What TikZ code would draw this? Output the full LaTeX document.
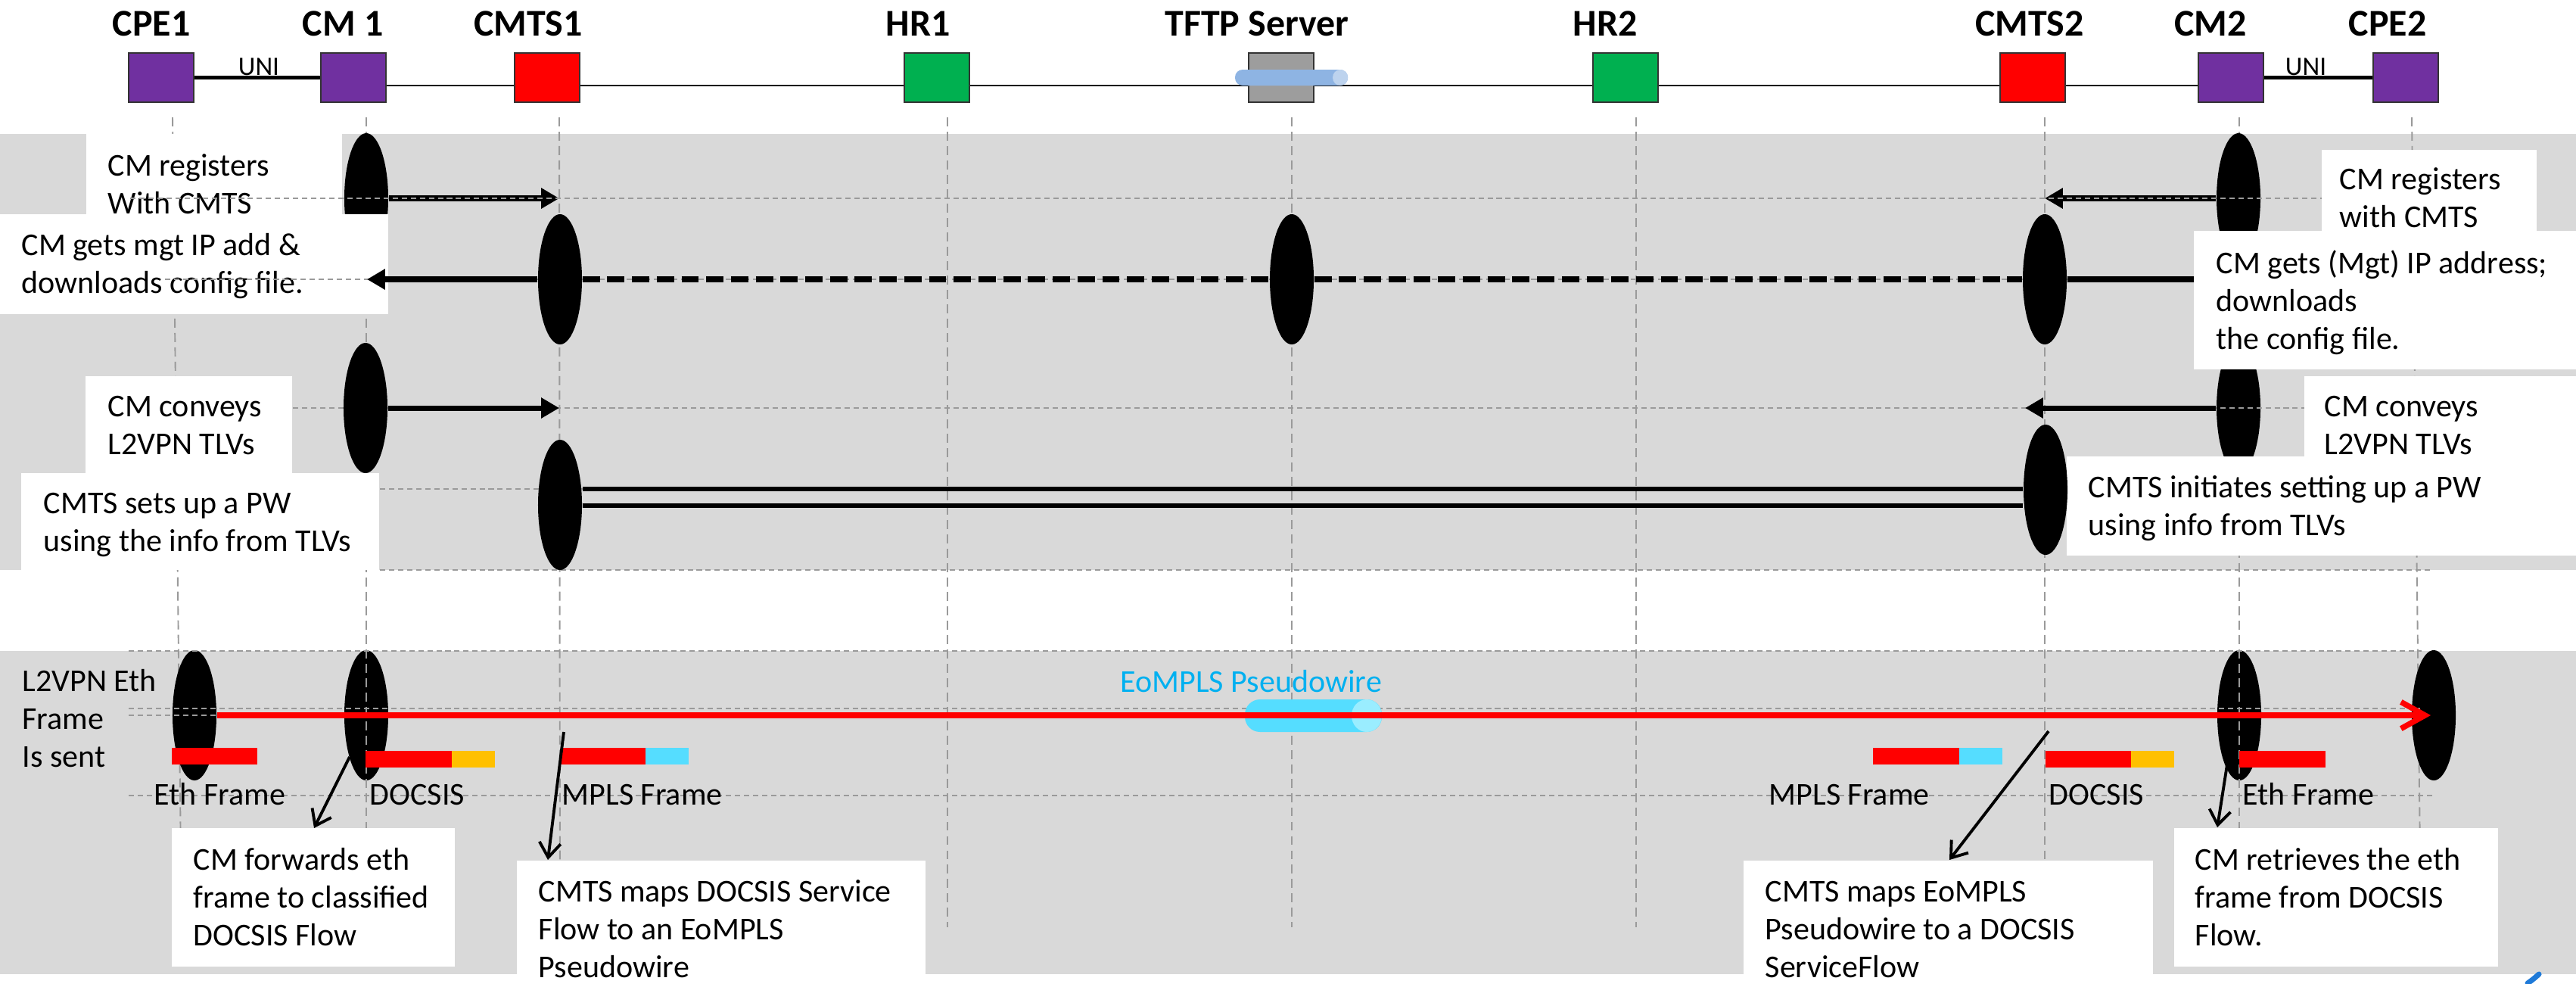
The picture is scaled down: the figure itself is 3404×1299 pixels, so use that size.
\documentclass[tikz,border=0pt]{standalone}
\usepackage{fontspec}
\setmainfont{Carlito}
\usetikzlibrary{shapes.geometric,arrows.meta}
\definecolor{bandgray}{HTML}{D9D9D9}
\definecolor{gridgray}{HTML}{9A9A9A}
\definecolor{cmpurple}{HTML}{7030A0}
\definecolor{cmtsred}{HTML}{FF0000}
\definecolor{hrgreen}{HTML}{00B050}
\definecolor{srvgray}{HTML}{9D9D9D}
\definecolor{tubeblue}{HTML}{8EB4E3}
\definecolor{tubecap}{HTML}{BDD3EE}
\definecolor{pwcyan}{HTML}{55DDFF}
\definecolor{pwcap}{HTML}{9AEDFF}
\definecolor{pwtext}{HTML}{00B0F0}
\definecolor{hdrorange}{HTML}{FFC000}
\definecolor{logoblue}{HTML}{1F7AD8}
\begin{document}
\begin{tikzpicture}[x=0.01cm,y=-0.01cm,
  devbox/.style={draw=black!80, line width=0.6pt, minimum width=0.86cm, minimum height=0.65cm, inner sep=0pt},
  toplbl/.style={font=\fontsize{14.2}{17}\selectfont\bfseries, inner sep=0pt, anchor=base},
  % multi-line notes are placed by the baseline of their last line
  txt/.style={font=\fontsize{11.95}{14.2}\selectfont, inner sep=0pt, align=left, anchor=base west},
  evt/.style={ellipse, fill=black, inner sep=0pt, minimum width=0.58cm, minimum height=1.72cm},
  lifeln/.style={gridgray, line width=0.55pt, dash pattern=on 3.4pt off 2pt},
  gridln/.style={gridgray, line width=0.55pt, dash pattern=on 2pt off 1.4pt},
  msg/.style={line width=2pt, -{Triangle[length=6.8pt,width=7.4pt]}},
  fatdash/.style={line width=2.3pt, dash pattern=on 6.5pt off 2.8pt},
  pwline/.style={line width=1.7pt},
  redflow/.style={cmtsred, line width=2.1pt, -{Straight Barb[length=9pt,width=10pt]}},
  callout/.style={line width=1.1pt, -{Straight Barb[length=5.5pt,width=8pt]}},
  wbox/.style={fill=white}
]
\useasboundingbox (0,0) rectangle (3404,1299);

% shaded phases
\fill[bandgray] (0,177) rectangle (3404,753);
\fill[bandgray] (0,860) rectangle (3404,1287);

% lifelines
\foreach \n/\xa/\xb in {cpe1/228/240,cm1/484/484,cmts1/739/740,hr1/1252/1252,tftp/1707/1707,hr2/2162/2162,cmts2/2702/2702,cm2/2959/2959,cpe2/3187/3199}{
  \coordinate (lt-\n) at (\xa,155);
  \coordinate (lb-\n) at (\xb,1225);
  \draw[lifeln] (lt-\n) -- (lb-\n);
}

% provisioning events partly hidden by the notes
\node[evt] (e1) at (484,262) {};
\node[evt] (e2) at (2958,262) {};
\node[evt] (e7) at (2958,539) {};

% notes of the provisioning phase
\fill[wbox] (114,177) rectangle (452,283);
\node[txt] (tA) at (142,282) {CM registers\\With CMTS};
\fill[wbox] (0,283) rectangle (513,415);
\node[txt] (tB) at (28,387) {CM gets mgt IP add \&\\downloads config file.};
\fill[wbox] (113,497) rectangle (386,625);
\node[txt] (tC) at (142,600) {CM conveys\\L2VPN TLVs};
\fill[wbox] (28,625) rectangle (501,753);
\node[txt] (tD) at (57,728) {CMTS sets up a PW\\using the info from TLVs};
\fill[wbox] (3068,198) rectangle (3352,305);
\node[txt] (tE) at (3091,300) {CM registers\\with CMTS};
\fill[wbox] (2899,305) rectangle (3404,488);
\node[txt] (tF) at (2928,461) {CM gets (Mgt) IP address;\\downloads\\the config file.};
\fill[wbox] (3045,497) rectangle (3404,603);
\node[txt] (tG) at (3071,600) {CM conveys\\L2VPN TLVs};
\fill[wbox] (2731,603) rectangle (3404,734);
\node[txt] (tH) at (2759,707) {CMTS initiates setting up a PW\\using info from TLVs};

% row guides
\coordinate (g2a) at (218,369); \coordinate (g2b) at (2899,369);
\coordinate (g3a) at (387,539); \coordinate (g3b) at (3045,539);
\coordinate (g4a) at (502,646); \coordinate (g4b) at (2731,646);
\coordinate (g5a) at (502,753); \coordinate (g5b) at (3215,753);
\draw[gridln] (g2a) -- (g2b);
\draw[gridln] (g3a) -- (g3b);
\draw[gridln] (g4a) -- (g4b);
\draw[gridln] (g5a) -- (g5b);

% provisioning events and messages
\node[evt] (e3) at (740,369) {};
\node[evt] (e4) at (1707,369) {};
\node[evt] (e5) at (2702,369) {};
\node[evt] (e6) at (483,539) {};
\node[evt] (e8) at (740,667) {};
\node[evt] (e9) at (2703,647) {};

\coordinate (r1a) at (739,262); \draw[msg] (e1) -- (r1a);
\coordinate (r1b) at (2702,262); \draw[msg] (e2) -- (r1b);
\coordinate (r2a) at (485,369); \draw[msg, line width=2.3pt] (e3) -- (r2a);
\draw[fatdash] (e3) -- (e4);
\draw[fatdash] (e4) -- (e5);
\coordinate (r2b) at (2899,369); \draw[line width=2.3pt] (e5) -- (r2b);
\coordinate (r3a) at (739,539); \draw[msg] (e6) -- (r3a);
\coordinate (r3b) at (2676,539); \draw[msg] (e7) -- (r3b);
\draw[pwline] (e8.east |- 0,646) -- (e9.west |- 0,646);
\draw[pwline] (e8.east |- 0,668) -- (e9.west |- 0,668);

\coordinate (g1a) at (172,262); \coordinate (g1b) at (3068,262);
\draw[gridln] (g1a) -- (g1b);

% forwarding phase
\node[evt] (f1) at (257,945) {};
\node[evt] (f2) at (484,945) {};
\node[evt] (f3) at (2959,945) {};
\node[evt] (f4) at (3216,945) {};
\draw[lifeln] (f2.north) -- (f2.south);
\draw[lifeln] (f3.north) -- (f3.south);

\coordinate (h0a) at (170,860);  \coordinate (h0b) at (3200,860);
\coordinate (h1a) at (170,936);  \coordinate (h1b) at (3198,936);
\coordinate (h2a) at (170,945);  \coordinate (h2b) at (3198,945);
\coordinate (h3a) at (170,1051); \coordinate (h3b) at (3214,1051);
\draw[gridln] (h0a) -- (h0b);
\draw[gridln] (h1a) -- (h1b);
\draw[gridln] (h2a) -- (h2b);
\draw[gridln] (h3a) -- (h3b);

% pseudowire tube
\fill[pwcyan, rounded corners=0.2cm] (1645,924) rectangle (1826,967);
\fill[pwcap] (1806,945.5) ellipse [x radius=0.2cm, y radius=0.215cm];
\node[txt, text=pwtext] (pwlbl) at (1480,914) {EoMPLS Pseudowire};

\coordinate (redend) at (3212,945);
\draw[redflow] (f1) -- (redend);

% frame formats
\fill[cmtsred] (227,988) rectangle (340,1010);
\fill[cmtsred] (483,992) rectangle (597,1014);
\fill[hdrorange] (597,992) rectangle (654,1014);
\fill[cmtsred] (742,988) rectangle (853,1010);
\fill[pwcyan] (853,988) rectangle (910,1010);
\fill[cmtsred] (2475,988) rectangle (2589,1010);
\fill[pwcyan] (2589,988) rectangle (2646,1010);
\fill[cmtsred] (2703,992) rectangle (2816,1014);
\fill[hdrorange] (2816,992) rectangle (2873,1014);
\fill[cmtsred] (2959,992) rectangle (3073,1014);

\node[txt] (fl1) at (203,1063) {Eth Frame};
\node[txt] (fl2) at (488,1063) {DOCSIS};
\node[txt] (fl3) at (742,1063) {MPLS Frame};
\node[txt] (fl4) at (2337,1063) {MPLS Frame};
\node[txt] (fl5) at (2707,1063) {DOCSIS};
\node[txt] (fl6) at (2963,1063) {Eth Frame};
\node[txt] (lsent) at (29,1013) {L2VPN Eth\\Frame\\Is sent};

% callouts
\coordinate (c1a) at (462,1000);  \coordinate (c1b) at (415,1094);
\coordinate (c2a) at (745,967);   \coordinate (c2b) at (724,1136);
\coordinate (c3a) at (2707,966);  \coordinate (c3b) at (2576,1136);
\coordinate (c4a) at (2943,1010); \coordinate (c4b) at (2930,1093);
\draw[callout] (c1a) -- (c1b);
\draw[callout] (c2a) -- (c2b);
\draw[callout] (c3a) -- (c3b);
\draw[callout] (c4a) -- (c4b);

\fill[wbox] (227,1094) rectangle (601,1277);
\node[txt] (tI) at (255,1249) {CM forwards eth\\frame to classified\\DOCSIS Flow};
\fill[wbox] (683,1137) rectangle (1223,1299);
\node[txt] (tJ) at (711,1291) {CMTS maps DOCSIS Service\\Flow to an EoMPLS\\Pseudowire};
\fill[wbox] (2304,1137) rectangle (2845,1299);
\node[txt] (tK) at (2332,1291) {CMTS maps EoMPLS\\Pseudowire to a DOCSIS\\ServiceFlow};
\fill[wbox] (2873,1094) rectangle (3301,1277);
\node[txt] (tL) at (2900,1249) {CM retrieves the eth\\frame from DOCSIS\\Flow.};

% network elements
\coordinate (bbL) at (510,113); \coordinate (bbR) at (2905,113);
\draw[line width=0.6pt] (bbL) -- (bbR);
\node[devbox, fill=cmpurple] (cpe1) at (213,102.5) {};
\node[devbox, fill=cmpurple] (cm1) at (467,102.5) {};
\node[devbox, fill=cmtsred] (cmts1) at (723,102.5) {};
\node[devbox, fill=hrgreen] (hr1) at (1238,102.5) {};
\node[devbox, fill=srvgray] (tftp) at (1693,102.5) {};
\node[devbox, fill=hrgreen] (hr2) at (2148,102.5) {};
\node[devbox, fill=cmtsred] (cmts2) at (2686,102.5) {};
\node[devbox, fill=cmpurple] (cm2) at (2948,102.5) {};
\node[devbox, fill=cmpurple] (cpe2) at (3179,102.5) {};
\draw[line width=1.2pt] (cpe1.east) -- (cm1.west);
\draw[line width=1.2pt] (cm2.east) -- (cpe2.west);
\node[font=\fontsize{10}{12}\selectfont, anchor=base, inner sep=0pt] (uni1) at (342,99) {UNI};
\node[font=\fontsize{10}{12}\selectfont, anchor=base, inner sep=0pt] (uni2) at (3047,99) {UNI};

\fill[tubeblue, rounded corners=0.1cm] (1632,92) rectangle (1781,113);
\fill[tubecap] (1771,102.5) ellipse [x radius=0.1cm, y radius=0.105cm];

\node[toplbl] (ncpe1) at (200,47) {CPE1};
\node[toplbl] (ncm1) at (453,47) {CM 1};
\node[toplbl] (ncmts1) at (698,47) {CMTS1};
\node[toplbl] (nhr1) at (1213,47) {HR1};
\node[toplbl] (ntftp) at (1661,47) {TFTP Server};
\node[toplbl] (nhr2) at (2121,47) {HR2};
\node[toplbl] (ncmts2) at (2682,47) {CMTS2};
\node[toplbl] (ncm2) at (2921,47) {CM2};
\node[toplbl] (ncpe2) at (3155,47) {CPE2};

% logo edge
\draw[logoblue, line width=2pt, line cap=round] (3340,1299) .. controls (3347,1294) .. (3355,1287);
\end{tikzpicture}
\end{document}
